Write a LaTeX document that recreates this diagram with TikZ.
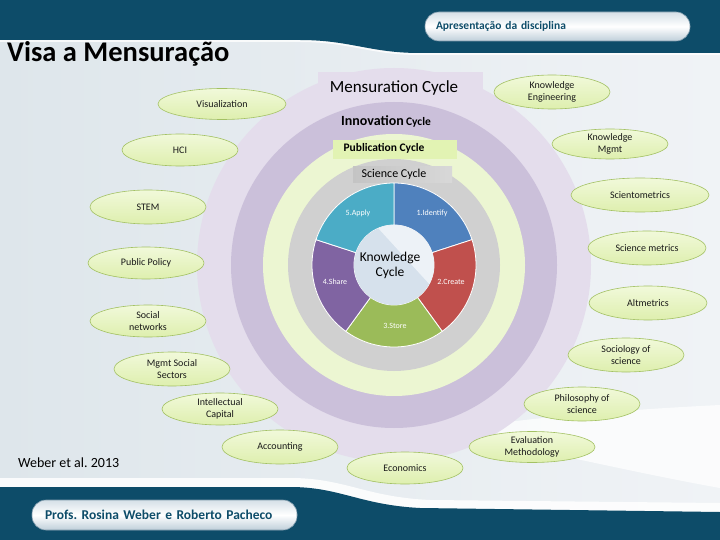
\documentclass[tikz,border=0pt]{standalone}
\usepackage{fontspec}
\setmainfont{Carlito}
\usetikzlibrary{shapes.geometric,calc}
\definecolor{hdr}{HTML}{0D4C69}
\definecolor{bgL}{HTML}{DEE6EB}
\definecolor{bgR}{HTML}{F0F3F6}
\definecolor{lavL}{HTML}{E4DDEC}
\definecolor{lavD}{HTML}{CBC0DA}
\definecolor{grnL}{HTML}{ECF6D2}
\definecolor{pubbox}{HTML}{E2F3B3}
\definecolor{grayring}{HTML}{D0D0D0}
\definecolor{scibA}{HTML}{C4C4C4}
\definecolor{scibB}{HTML}{D8D8D8}
\definecolor{cIdent}{HTML}{4F81BD}
\definecolor{cCreate}{HTML}{C0504D}
\definecolor{cStore}{HTML}{9BBB59}
\definecolor{cShare}{HTML}{8064A2}
\definecolor{cApply}{HTML}{4BACC6}
\definecolor{innerA}{HTML}{D6E1EC}
\definecolor{innerB}{HTML}{EDF2F7}
\definecolor{ovaltop}{HTML}{F1F9DA}
\definecolor{ovalbot}{HTML}{DEEFAE}
\definecolor{ovalline}{HTML}{A3C163}
\definecolor{pillline}{HTML}{7F9AAB}
\definecolor{pilltop}{HTML}{D5E0E7}
\definecolor{pillbot}{HTML}{BFCFDA}
\tikzset{
  oval/.style={ellipse, draw=ovalline, line width=0.6pt, top color=ovaltop, bottom color=ovalbot,
    minimum width=116pt, minimum height=32pt, inner sep=0pt, align=center,
    font=\fontsize{10}{12}\selectfont, text=black!90},
  pill/.style={rounded corners=14pt, draw=pillline, line width=0.6pt, top color=pilltop,
    bottom color=pillbot, middle color=white, align=left, text=hdr},
  seglabel/.style={text=white, font=\fontsize{8}{9}\selectfont, inner sep=0pt},
  cyclelabel/.style={inner sep=0pt, text=black}
}
\newcommand\kseg[3]{\fill[#1, draw=white, line width=0.8pt] ($(C)+(#2:82)$) arc[start angle=#2, end angle=#3, radius=82] -- ($(C)+(#3:40)$) arc[start angle=#3, end angle=#2, radius=40] -- cycle;}
\frenchspacing
\begin{document}
\begin{tikzpicture}[x=1pt,y=-1pt]
\useasboundingbox (0,0) rectangle (720,540);
% background
\shade[left color=bgL, right color=bgR] (0,0) rectangle (720,540);
\fill[white, opacity=0.75] (440,432) .. controls (520,418) and (620,410) .. (720,405) -- (720,488) .. controls (620,470) and (520,445) .. (440,432) -- cycle;
% footer band with highlight
\fill[white, opacity=0.85] (0,478) -- (290,478) .. controls (345,478) and (365,497) .. (430,500) -- (720,503) -- (720,512) -- (420,508) .. controls (360,505) and (340,487) .. (290,487) -- (0,487) -- cycle;
\fill[hdr] (0,487) -- (290,487) .. controls (340,487) and (360,505) .. (420,508) -- (720,512) -- (720,540) -- (0,540) -- cycle;
% header
\draw[white, opacity=0.8, line width=2pt] (0,41) -- (300,41) .. controls (350,41) and (370,54) .. (420,54) -- (720,54);
\fill[hdr] (0,0) -- (720,0) -- (720,53) -- (420,53) .. controls (370,53) and (350,40) .. (300,40) -- (0,40) -- cycle;
% rings
\coordinate (C) at (394,265);
\fill[lavL] (C) circle[radius=197];
\fill[lavL] (318,72) rectangle (483,104);
\fill[lavD] (C) circle[radius=163];
\fill[grnL] (C) circle[radius=131];
\fill[grayring] (C) circle[radius=106];
% labels of rings
\node[cyclelabel, font=\fontsize{17}{19}\selectfont] (mens) at (394,88) {Mensuration Cycle};
\node[cyclelabel, font=\bfseries] (innov) at (386,121) {{\fontsize{14}{16}\selectfont Innovation} {\fontsize{11.5}{14}\selectfont Cycle}};
\fill[pubbox] (333,140) rectangle (457,159);
\node[cyclelabel, font=\bfseries\fontsize{11.5}{13}\selectfont] (pub) at (384,148) {Publication Cycle};
\shade[left color=scibA, right color=scibB] (353,167) rectangle (452,183);
\node[cyclelabel, font=\fontsize{12}{14}\selectfont] (sci) at (394,174) {Science Cycle};
% knowledge cycle donut
\kseg{cIdent}{-90}{-18}
\kseg{cCreate}{-18}{54}
\kseg{cStore}{54}{126}
\kseg{cShare}{126}{198}
\kseg{cApply}{198}{270}
\fill[innerA] (C) circle[radius=40];
\begin{scope}
\clip (C) circle[radius=40];
\fill[innerB] (367,216) -- (443,299) -- (450,299) -- (450,210) -- (367,210) -- cycle;
\end{scope}
\node[seglabel] (s1) at (432,213) {1.Identify};
\node[seglabel] (s2) at (451,282) {2.Create};
\node[seglabel] (s3) at (395,326) {3.Store};
\node[seglabel] (s4) at (335,282) {4.Share};
\node[seglabel] (s5) at (358,213) {5.Apply};
\node[cyclelabel, align=center, font=\fontsize{13.5}{15}\selectfont] (kc) at (390,265) {Knowledge\\Cycle};
% title and texts
\node[anchor=base west, inner sep=0pt, font=\bfseries\fontsize{28.5}{31}\selectfont] (title) at (7,62) {Visa a Mensuração};
\node[anchor=base west, inner sep=0pt, font=\fontsize{14}{16}\selectfont] (ref) at (18,467) {Weber et al. 2013};
\node[pill, minimum height=29pt, inner xsep=11pt, text width=243pt, font=\bfseries\fontsize{11.5}{13}\selectfont] (btn1) at (557.5,26.5) {Apresentação da disciplina};
\node[pill, minimum height=30pt, inner xsep=13pt, text width=239pt, font=\bfseries\fontsize{13.5}{15}\selectfont] (btn2) at (164.5,515) {Profs. Rosina Weber e Roberto Pacheco};
% ovals
\node[oval, minimum width=128pt, minimum height=31pt] (vis) at (222,104) {Visualization};
\node[oval] (hci) at (180,150) {HCI};
\node[oval, minimum height=34pt] (stem) at (148,207) {STEM};
\node[oval] (pp) at (146,263) {Public Policy};
\node[oval] (sn) at (148,321) {Social\\networks};
\node[oval, minimum height=34pt] (mss) at (172,369) {Mgmt Social\\Sectors};
\node[oval] (ic) at (220,409) {Intellectual\\Capital};
\node[oval, minimum height=34pt] (acc) at (280,447) {Accounting};
\node[oval] (eco) at (405,468) {Economics};
\node[oval, minimum width=126pt, minimum height=31pt] (eval) at (532,447) {Evaluation\\Methodology};
\node[oval, minimum height=34pt] (phil) at (582,404) {Philosophy of\\science};
\node[oval, minimum height=34pt] (soc) at (626,355) {Sociology of\\science};
\node[oval, minimum height=34pt] (ke) at (552,92) {Knowledge\\Engineering};
\node[oval, minimum height=30pt] (km) at (610,144) {Knowledge\\Mgmt};
\node[oval, minimum width=138pt, minimum height=34pt] (scm) at (640,195) {Scientometrics};
\node[oval, minimum width=118pt, minimum height=34pt] (scim) at (647,248) {Science metrics};
\node[oval, minimum width=118pt, minimum height=34pt] (alt) at (648,303) {Altmetrics};
\end{tikzpicture}
\end{document}
